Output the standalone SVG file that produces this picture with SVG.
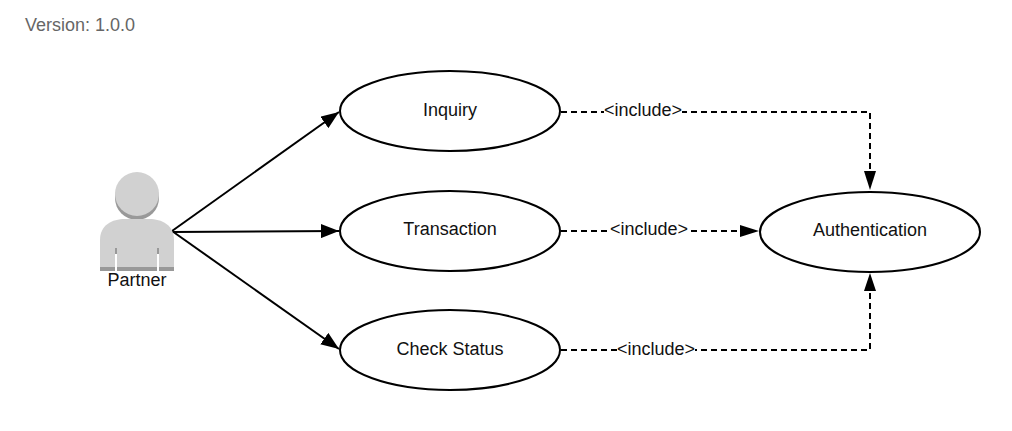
<svg xmlns="http://www.w3.org/2000/svg" width="1012" height="431" viewBox="0 0 1012 431">
<style>
text{font-family:"Liberation Sans",Arial,sans-serif;font-size:18px;fill:#111;text-anchor:middle}
.uc{fill:#fff;stroke:#000;stroke-width:2}
.a{fill:none;stroke:#000;stroke-width:2;marker-end:url(#arr)}
.d{fill:none;stroke:#000;stroke-width:2;stroke-dasharray:6 4;}
.lb{fill:#fff;stroke:none}
</style>
<defs>
<marker id="arr" markerUnits="userSpaceOnUse" markerWidth="20" markerHeight="14" refX="18" refY="7" orient="auto"><path d="M0 0L18 7L0 14Z" fill="#000"/></marker>
</defs>
<rect width="1012" height="431" fill="#fff"/>
<text x="80" y="31" style="fill:#666">Version: 1.0.0</text>
<g id="connectors">
<path class="a" d="M172 231L339 112"/>
<path class="a" d="M172 232L339 231"/>
<path class="a" d="M172 231L339 349"/>
<path class="d" d="M561 112H870V172"/>
<path d="M864 171L870 190L876 171Z"/>
<path class="d" d="M561 231H742"/>
<path d="M740 225L759 231L740 237Z"/>
<path class="d" d="M561 350H870V290"/>
<path d="M864 291L870 273L876 291Z"/>
<rect class="lb" x="604" y="100" width="78" height="20"/>
<rect class="lb" x="610" y="219" width="78" height="20"/>
<rect class="lb" x="617" y="338" width="78" height="20"/>
<text x="643" y="116">&lt;include&gt;</text>
<text x="649" y="235">&lt;include&gt;</text>
<text x="656" y="354.500">&lt;include&gt;</text>
</g>
<g id="partner">
<circle cx="137" cy="198" r="22" fill="#999"/>
<circle cx="137" cy="194" r="22" fill="#d1d1d1"/>
<path d="M100 271V240C100 225 112 219 125 219H149C162 219 174 225 174 240V271Z" fill="#d1d1d1"/>
<rect x="100" y="267" width="74" height="4" fill="#999"/>
<rect x="115" y="248" width="2" height="23" fill="#fff"/>
<rect x="157" y="248" width="2" height="23" fill="#fff"/>
<rect x="115" y="248" width="2" height="6" fill="#999"/>
<rect x="157" y="248" width="2" height="6" fill="#999"/>
<text x="137" y="286">Partner</text>
</g>
<g id="inquiry"><ellipse class="uc" cx="450" cy="111" rx="110" ry="40"/><text x="450" y="116">Inquiry</text></g>
<g id="transaction"><ellipse class="uc" cx="450" cy="231" rx="110" ry="40"/><text x="450" y="235">Transaction</text></g>
<g id="check-status"><ellipse class="uc" cx="450" cy="350" rx="110" ry="40"/><text x="450" y="354.500">Check Status</text></g>
<g id="authentication"><ellipse class="uc" cx="870" cy="232" rx="110" ry="40"/><text x="870" y="236">Authentication</text></g>
</svg>
